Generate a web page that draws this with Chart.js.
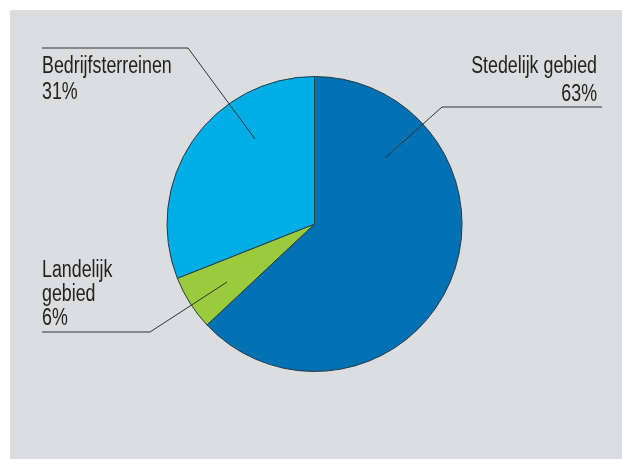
<!DOCTYPE html>
<html>
<head>
<meta charset="utf-8">
<script src="https://cdn.jsdelivr.net/npm/chart.js@4/dist/chart.umd.min.js"></script>
<style>
  html, body { margin: 0; padding: 0; background: #ffffff; }
  canvas { display: block; }
</style>
</head>
<body>
<canvas id="c" width="622" height="459"></canvas>
<script>
// ---- data ----
const categories = ["Stedelijk gebied", "Landelijk gebied", "Bedrijfsterreinen"];
const shares = [63, 6, 31];
const labelLines = [
  ["Stedelijk gebied", "63%"],
  ["Landelijk", "gebied", "6%"],
  ["Bedrijfsterreinen", "31%"]
];

// ---- styles ----
const sliceColors = ["#0071b2", "#9acb3c", "#00aee6"];

// label placement (annotation layout)
const labelLayout = [
  { align: "right", x: 597, ys: [73, 101], line: [[602, 107], [442, 107], [385, 158]] },
  { align: "left",  x: 42,  ys: [277, 300.5, 324.5], line: [[42, 332], [150, 332], [227, 282]] },
  { align: "left",  x: 42,  ys: [73, 98.5], line: [[42, 48], [188, 48], [255, 139]] }
];

const decor = {
  id: "decor",
  beforeDraw(chart) {
    const ctx = chart.ctx;
    ctx.save();
    ctx.fillStyle = "#ffffff";
    ctx.fillRect(0, 0, chart.width, chart.height);
    ctx.fillStyle = "#dcdddf";
    ctx.fillRect(10, 10, chart.width - 10, chart.height - 10);
    ctx.restore();
  },
  afterDraw(chart) {
    const ctx = chart.ctx;
    ctx.save();
    // leader lines
    ctx.strokeStyle = "#333333";
    ctx.lineWidth = 1;
    labelLayout.forEach(l => {
      ctx.beginPath();
      l.line.forEach((p, i) => i ? ctx.lineTo(p[0], p[1]) : ctx.moveTo(p[0], p[1]));
      ctx.stroke();
    });
    // texts
    ctx.fillStyle = "#222222";
    ctx.font = "23px 'Liberation Sans', Arial, sans-serif";
    ctx.textBaseline = "alphabetic";
    labelLayout.forEach((l, i) => {
      labelLines[i].forEach((t, j) => {
        ctx.save();
        ctx.translate(l.x, l.ys[j]);
        ctx.scale(0.775, 1);
        ctx.textAlign = l.align;
        ctx.fillText(t, 0, 0);
        ctx.restore();
      });
    });
    ctx.restore();
  }
};

new Chart(document.getElementById("c"), {
  type: "pie",
  data: {
    labels: categories,
    datasets: [{
      data: shares,
      backgroundColor: sliceColors,
      borderColor: "#2b3a48",
      borderWidth: 1
    }]
  },
  options: {
    responsive: false,
    animation: false,
    layout: { padding: { top: 76, bottom: 87, left: 166.5, right: 159.5 } },
    plugins: {
      legend: { display: false },
      tooltip: { enabled: false }
    }
  },
  plugins: [decor]
});
</script>
</body>
</html>
